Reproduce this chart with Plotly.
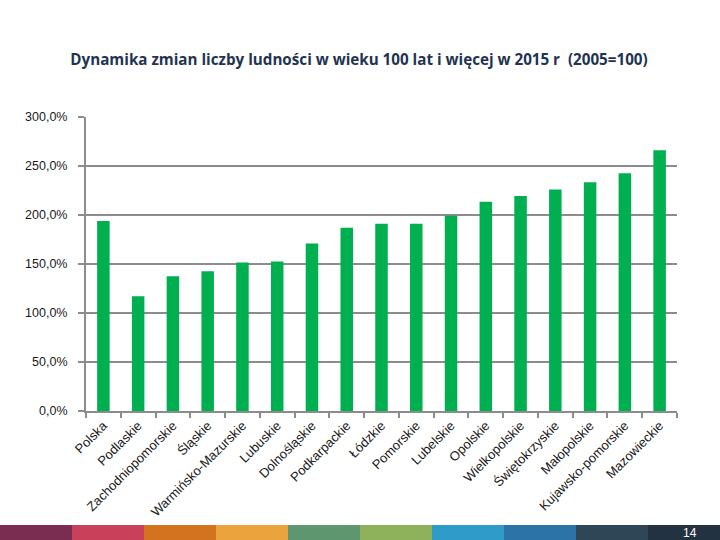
import plotly.graph_objects as go

categories = ["Polska", "Podlaskie", "Zachodniopomorskie", "Śląskie", "Warmińsko-Mazurskie",
              "Lubuskie", "Dolnośląskie", "Podkarpackie", "Łódzkie", "Pomorskie", "Lubelskie",
              "Opolskie", "Wielkopolskie", "Świętokrzyskie", "Małopolskie", "Kujawsko-pomorskie",
              "Mazowieckie"]
values = [194.0, 117.0, 137.5, 142.5, 151.5, 152.5, 171.0, 187.0, 191.0, 191.0, 199.3,
          213.5, 219.3, 226.0, 233.5, 242.5, 266.0]
y_ticks = [0, 50, 100, 150, 200, 250, 300]
y_tick_labels = ["0,0%", "50,0%", "100,0%", "150,0%", "200,0%", "250,0%", "300,0%"]
footer_colors = ["#7a2d50", "#c8405a", "#d4731f", "#eba43d", "#5e9670",
                 "#8db25b", "#2f9bc7", "#2c74a8", "#2f4656", "#233240"]

W, H = 720, 540
L, R, T, B = 86, 677, 117, 411

fig = go.Figure(go.Bar(x=categories, y=values, marker_color="#00b050",
                       marker_line_width=0, width=0.36))

def px_x(x):
    return (x - L) / (R - L)

def px_y(y):
    return (B - y) / (B - T)

shapes = []
n = len(footer_colors)
for i, c in enumerate(footer_colors):
    shapes.append(dict(type="rect", xref="paper", yref="paper",
                       x0=px_x(i * W / n), x1=px_x((i + 1) * W / n),
                       y0=px_y(541), y1=px_y(525), fillcolor=c, line_width=0, layer="above"))

tick_font = dict(family="Liberation Sans Narrow, Liberation Sans", size=13, color="#1a1a1a")

fig.update_layout(
    width=W, height=H,
    margin=dict(l=L, r=W - R, t=T, b=H - B, autoexpand=False),
    paper_bgcolor="white", plot_bgcolor="white",
    showlegend=False,
    title=dict(text="Dynamika zmian liczby ludności w wieku 100 lat i więcej w 2015 r  (2005=100)",
               x=359 / W, xref="container", xanchor="center",
               y=1 - 60 / H, yref="container", yanchor="middle",
               font=dict(family="Open Sans", size=15.2, color="#1f3450", weight="bold")),
    xaxis=dict(showgrid=False, showline=True, linecolor="#8c8c8c", linewidth=2,
               ticks="outside", tickson="boundaries", ticklen=5, tickcolor="#8c8c8c", tickwidth=1.5,
               tickangle=-45, tickfont=tick_font, automargin=False, fixedrange=True),
    yaxis=dict(range=[0, 300], tickvals=y_ticks, ticktext=y_tick_labels,
               showgrid=True, gridcolor="#8c8c8c", gridwidth=2,
               showline=True, linecolor="#8c8c8c", linewidth=2,
               ticks="outside", ticklen=6, tickcolor="#8c8c8c", tickwidth=1.5,
               ticklabelstandoff=8,
               tickfont=dict(family="Liberation Sans", size=12.5, color="#1a1a1a"),
               zeroline=False, automargin=False, fixedrange=True),
    shapes=shapes,
    annotations=[dict(text="14", xref="paper", yref="paper", x=px_x(690), y=px_y(533),
                      showarrow=False, xanchor="center", yanchor="middle",
                      font=dict(family="Liberation Sans Narrow, Liberation Sans", size=12, color="white"))],
)

fig.write_html("out.html", config={"displayModeBar": False},
               post_script="document.body.style.margin='0';")
